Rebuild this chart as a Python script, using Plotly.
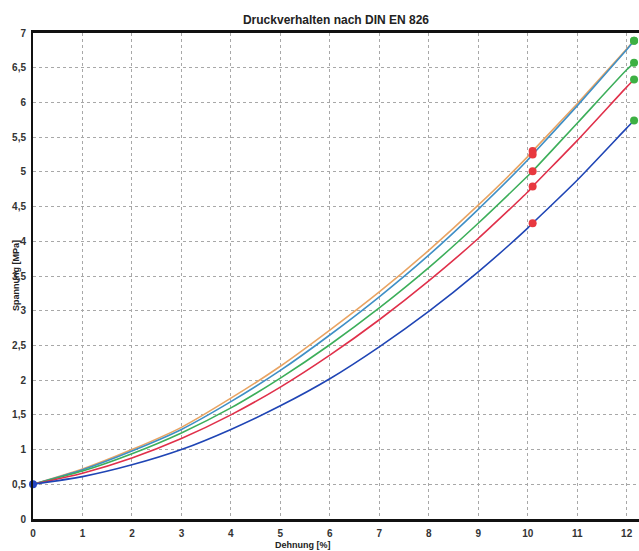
import plotly.graph_objects as go

# Strain [%] sample positions
x_vals = [0, 1, 2, 3, 4, 5, 6, 7, 8, 9, 10, 10.1, 11, 12, 12.15]

# Stress [MPa]
s_orange = [0.5, 0.72, 1.00, 1.32, 1.74, 2.20, 2.72, 3.27, 3.87, 4.52, 5.22, 5.30, 5.98, 6.77, 6.89]
s_teal   = [0.5, 0.71, 0.98, 1.29, 1.69, 2.14, 2.65, 3.20, 3.80, 4.46, 5.17, 5.25, 5.95, 6.76, 6.89]
s_green  = [0.5, 0.69, 0.94, 1.24, 1.60, 2.03, 2.51, 3.04, 3.62, 4.26, 4.94, 5.01, 5.70, 6.47, 6.57]
s_red    = [0.5, 0.66, 0.88, 1.16, 1.50, 1.90, 2.36, 2.87, 3.43, 4.04, 4.71, 4.79, 5.45, 6.22, 6.33]
s_blue   = [0.5, 0.61, 0.78, 1.00, 1.29, 1.63, 2.02, 2.48, 2.99, 3.56, 4.19, 4.26, 4.88, 5.63, 5.74]

series_colors = ["#e9a463", "#3f8fc6", "#3cae5a", "#e0304a", "#1f45b5"]
series = [s_orange, s_teal, s_green, s_red, s_blue]

# Marker points: stress at 10 % and at maximum strain
x_mark10 = 10.1
x_markmax = 12.15
x_start = 0
y_start = 0.5

x_ticks = list(range(0, 13))
x_ticktext = [str(v) for v in x_ticks]
y_ticks = [0, 0.5, 1, 1.5, 2, 2.5, 3, 3.5, 4, 4.5, 5, 5.5, 6, 6.5, 7]
y_ticktext = ["0", "0,5", "1", "1,5", "2", "2,5", "3", "3,5", "4", "4,5", "5", "5,5", "6", "6,5", "7"]

fig = go.Figure()

for ys, col in zip(series, series_colors):
    fig.add_trace(go.Scatter(x=x_vals, y=ys, mode="lines",
                             line=dict(color=col, width=1.6, shape="spline", smoothing=0.6),
                             showlegend=False, hoverinfo="skip"))

i10 = x_vals.index(x_mark10)
imax = x_vals.index(x_markmax)
fig.add_trace(go.Scatter(x=[x_mark10] * len(series), y=[s[i10] for s in series], mode="markers",
                         marker=dict(color="#e8383f", size=8), showlegend=False, cliponaxis=False))
fig.add_trace(go.Scatter(x=[x_markmax] * len(series), y=[s[imax] for s in series], mode="markers",
                         marker=dict(color="#3db043", size=8), showlegend=False, cliponaxis=False))
fig.add_trace(go.Scatter(x=[x_start], y=[y_start], mode="markers",
                         marker=dict(color="#2545c0", size=8), showlegend=False, cliponaxis=False))

fig.update_layout(
    width=639, height=551,
    margin=dict(l=33, r=0, t=33, b=32, autoexpand=False),
    paper_bgcolor="white", plot_bgcolor="white",
    font=dict(family="Arial, Liberation Sans, sans-serif", color="#222"),
    title=dict(text="<b>Druckverhalten nach DIN EN 826</b>", x=0.5, xref="paper",
               y=0.972, yref="container", font=dict(size=12, color="#222")),
    xaxis=dict(range=[0, 12.25], tickvals=x_ticks, ticktext=x_ticktext, automargin=False,
               showgrid=True, gridcolor="#a8a8a8", griddash="dot", gridwidth=1,
               showline=True, linecolor="#111", linewidth=2.5, mirror=True,
               zeroline=False, ticks="", ticklabelstandoff=3,
               tickfont=dict(size=10, color="#333", weight="bold")),
    yaxis=dict(range=[0, 7], tickvals=y_ticks, ticktext=y_ticktext, automargin=False,
               showgrid=True, gridcolor="#a8a8a8", griddash="dot", gridwidth=1,
               showline=True, linecolor="#111", linewidth=2,
               zeroline=False, ticks="", ticklabelstandoff=3,
               tickfont=dict(size=10, color="#333", weight="bold")),
    annotations=[
        dict(text="<b>Dehnung [%]</b>", x=0.445, xref="paper", y=0, yref="paper",
             yanchor="top", yshift=-19, showarrow=False, font=dict(size=9, color="#222")),
        dict(text="<b>Spannung [MPa]</b>", x=0, xref="paper", y=0.5, yref="paper",
             xanchor="center", xshift=-17, textangle=-90, showarrow=False,
             font=dict(size=9, color="#222")),
    ],
)

fig.write_html("out.html", config={"displayModeBar": False},
               post_script="document.body.style.margin='0px';document.body.style.overflow='hidden';")
